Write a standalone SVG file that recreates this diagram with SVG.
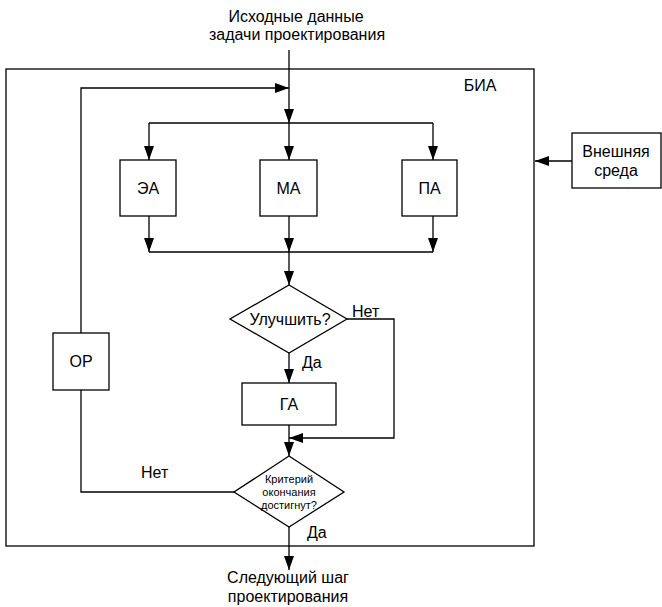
<svg xmlns="http://www.w3.org/2000/svg" width="662" height="607" viewBox="0 0 662 607">
<style>
.s{fill:#fff;stroke:#000;stroke-width:1.3}
.c{fill:none;stroke:#000;stroke-width:1.3}
text{font-family:"Liberation Sans",Arial,sans-serif;font-size:16px;fill:#000}
.m{text-anchor:middle}
.sm{font-size:11px}
</style>
<defs>
<marker id="a" markerUnits="userSpaceOnUse" markerWidth="14" markerHeight="10" refX="14" refY="5" orient="auto">
<path d="M0,0 L14,5 L0,10 Z" fill="#000"/>
</marker>
</defs>
<rect x="0" y="0" width="662" height="607" fill="#fff"/>
<g id="bia">
<rect class="s" x="6" y="69" width="528" height="477" fill="none"/>
<text x="480" y="91" class="m">БИА</text>
</g>
<g id="connectors">
<path class="c" d="M289,50 V123" marker-end="url(#a)"/>
<path class="c" d="M81,333 V88 H289" marker-end="url(#a)"/>
<path class="c" d="M149,123 H433"/>
<path class="c" d="M149,123 V160" marker-end="url(#a)"/>
<path class="c" d="M289,123 V160" marker-end="url(#a)"/>
<path class="c" d="M433,123 V160" marker-end="url(#a)"/>
<path class="c" d="M149,216 V252" marker-end="url(#a)"/>
<path class="c" d="M289,216 V252" marker-end="url(#a)"/>
<path class="c" d="M433,216 V252" marker-end="url(#a)"/>
<path class="c" d="M149,252 H433"/>
<path class="c" d="M289,252 V285" marker-end="url(#a)"/>
<path class="c" d="M289,353 V383" marker-end="url(#a)"/>
<path class="c" d="M347,319 H394 V438 H289" marker-end="url(#a)"/>
<path class="c" d="M289,425 V456" marker-end="url(#a)"/>
<path class="c" d="M234,492 H81 V390"/>
<path class="c" d="M289,527 V570" marker-end="url(#a)"/>
<path class="c" d="M572,161 H535" marker-end="url(#a)"/>
</g>
<g id="ea"><rect class="s" x="120" y="160" width="56" height="56"/><text x="148" y="194" class="m">ЭА</text></g>
<g id="ma"><rect class="s" x="260" y="160" width="57" height="56"/><text x="288.500" y="194" class="m">МА</text></g>
<g id="pa"><rect class="s" x="402" y="160" width="55" height="56"/><text x="429.500" y="194" class="m">ПА</text></g>
<g id="improve"><path class="s" d="M289,285 L347,319 L289,353 L230,319 Z"/><text x="290" y="325" class="m">Улучшить?</text></g>
<g id="ga"><rect class="s" x="242" y="383" width="94" height="42"/><text x="289" y="410" class="m">ГА</text></g>
<g id="criterion"><path class="s" d="M289,456 L344,492 L289,527 L234,492 Z"/>
<text x="289" y="483" class="m sm">Критерий</text>
<text x="289" y="496" class="m sm">окончания</text>
<text x="289" y="509" class="m sm">достигнут?</text></g>
<g id="or"><rect class="s" x="53" y="333" width="56" height="57"/><text x="81" y="367" class="m">ОР</text></g>
<g id="env"><rect class="s" x="572" y="133" width="89" height="55"/><text x="616" y="157" class="m">Внешняя</text><text x="616" y="176" class="m">среда</text></g>
<g id="labels">
<text x="296" y="22" class="m">Исходные данные</text>
<text x="297" y="40" class="m">задачи проектирования</text>
<text x="352" y="317">Нет</text>
<text x="302" y="368">Да</text>
<text x="141" y="478">Нет</text>
<text x="307" y="538">Да</text>
<text x="288" y="583" class="m">Следующий шаг</text>
<text x="288" y="602" class="m">проектирования</text>
</g>
</svg>
